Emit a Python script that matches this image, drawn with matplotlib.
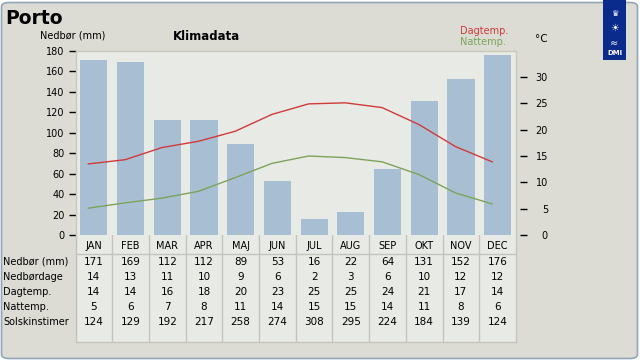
import numpy as np
from matplotlib import pyplot as plt
from matplotlib.patches import FancyBboxPatch, Rectangle

months = ['JAN', 'FEB', 'MAR', 'APR', 'MAJ', 'JUN', 'JUL', 'AUG', 'SEP', 'OKT', 'NOV', 'DEC']
rain = [171, 169, 112, 112, 89, 53, 16, 22, 64, 131, 152, 176]
rain_days = [14, 13, 11, 10, 9, 6, 2, 3, 6, 10, 12, 12]
day_temp = [14, 14, 16, 18, 20, 23, 25, 25, 24, 21, 17, 14]
night_temp = [5, 6, 7, 8, 11, 14, 15, 15, 14, 11, 8, 6]
sun_hours = [124, 129, 192, 217, 258, 274, 308, 295, 224, 184, 139, 124]
# curve values (unrounded)
day_curve = [13.5, 14.3, 16.6, 17.8, 19.7, 22.9, 24.9, 25.1, 24.2, 21.0, 16.8, 13.9]
night_curve = [5.1, 6.1, 7.0, 8.3, 10.9, 13.6, 15.0, 14.7, 13.9, 11.5, 8.0, 5.9]
row_labels = ['Nedbør (mm)', 'Nedbørdage', 'Dagtemp.', 'Nattemp.', 'Solskinstimer']

W, H = 640, 360
bg = '#dcdcd4'
plotbg = '#e8eae6'
barcol = '#a8bfd3'
red = '#d03a3a'
green = '#7ca35a'
gridcol = '#c4c4bc'

fig = plt.figure(figsize=(6.4, 3.6), dpi=100)
fig.patch.set_facecolor('white')
frame = FancyBboxPatch((1.5/W, 1.5/H), (W-4)/W, (H-4)/H, boxstyle='round,pad=0,rounding_size=0.012',
                       transform=fig.transFigure, facecolor=bg, edgecolor='#93a5bb', lw=1.2, zorder=-5)
fig.patches.append(frame)

def fx(px):
  return px/W
def fy(py):
  return 1-py/H

x0, x1 = 75.5, 516
ytop, ybot = 50.7, 235
ax = fig.add_axes([fx(x0), fy(ybot), fx(x1)-fx(x0), fy(ytop)-fy(ybot)])
ax.set_facecolor(plotbg)
x = np.arange(12)
ax.bar(x, rain, width=0.74, color=barcol, zorder=2)
ax.set_xlim(-0.5, 11.5)
ax.set_ylim(0, 180)
ax.set_yticks(range(0, 181, 20))
ax.set_xticks([])
ax.tick_params(axis='y', direction='out', length=5, width=1, labelsize=7, pad=3, colors='black')
for s in ax.spines.values():
  s.set_color('#c8c8bc')
  s.set_linewidth(1)
ax.spines['bottom'].set_visible(False)

ax2 = ax.twinx()
ax2.plot(x-0.15, day_curve, color=red, lw=1, zorder=3)
ax2.plot(x-0.15, night_curve, color=green, lw=1, zorder=3)
ax2.set_ylim(0, 35)
ax2.set_yticks(range(0, 31, 5))
ax2.spines['right'].set_position(('outward', 3))
for s in ax2.spines.values():
  s.set_visible(False)
ax2.tick_params(axis='y', direction='out', length=5, width=1, labelsize=7)
for lab in ax2.get_yticklabels():
  lab.set_horizontalalignment('right')
ax2.yaxis.set_tick_params(pad=15)

# texts
fig.text(fx(5), fy(18), 'Porto', fontsize=13.5, fontweight='bold', va='center', ha='left')
fig.text(fx(206), fy(36), 'Klimadata', fontsize=8.5, fontweight='bold', va='center', ha='center')
fig.text(fx(73), fy(36), 'Nedbør (mm)', fontsize=7, va='center', ha='center')
fig.text(fx(460), fy(31), 'Dagtemp.', fontsize=7, va='center', ha='left', color=red)
fig.text(fx(460), fy(42), 'Nattemp.', fontsize=7, va='center', ha='left', color=green)
fig.text(fx(535), fy(39), '°C', fontsize=7.5, va='center', ha='left')

# DMI logo
fig.patches.append(Rectangle((fx(603), fy(60)), fx(626)-fx(603), fy(0)-fy(60), transform=fig.transFigure,
                             facecolor='#0b2b8c', edgecolor='none'))
fig.text(fx(614.5), fy(53), 'DMI', fontsize=5, fontweight='bold', color='white', ha='center', va='center')
fig.text(fx(614.5), fy(13), '♛', fontsize=6, color='white', ha='center', va='center')
fig.text(fx(614.5), fy(28), '☀', fontsize=7, color='white', ha='center', va='center')
fig.text(fx(614.5), fy(43), '≈', fontsize=7, color='white', ha='center', va='center')

# table
tab = fig.add_axes([fx(x0), fy(342), fx(x1)-fx(x0), fy(235)-fy(342)])
tab.set_xlim(-0.5, 11.5)
tab.set_ylim(342, 235)
tab.set_facecolor(plotbg)
tab.set_xticks([])
tab.set_yticks([])
for s in tab.spines.values():
  s.set_color(gridcol)
  s.set_linewidth(1)
tab.spines['top'].set_visible(False)
for i in range(1, 12):
  tab.axvline(i-0.5, color=gridcol, lw=1)
tab.axhline(254, color=gridcol, lw=1)
rows = [rain, rain_days, day_temp, night_temp, sun_hours]
for i, m in enumerate(months):
  tab.text(i, 246, m, fontsize=7, ha='center', va='center')
  for r, vals in enumerate(rows):
    tab.text(i, 262+15*r, str(vals[i]), fontsize=7.5, ha='center', va='center')
for r, lab in enumerate(row_labels):
  fig.text(fx(3), fy(262+15*r), lab, fontsize=7, ha='left', va='center')

fig.savefig('out.png', dpi=100, facecolor=fig.get_facecolor())
